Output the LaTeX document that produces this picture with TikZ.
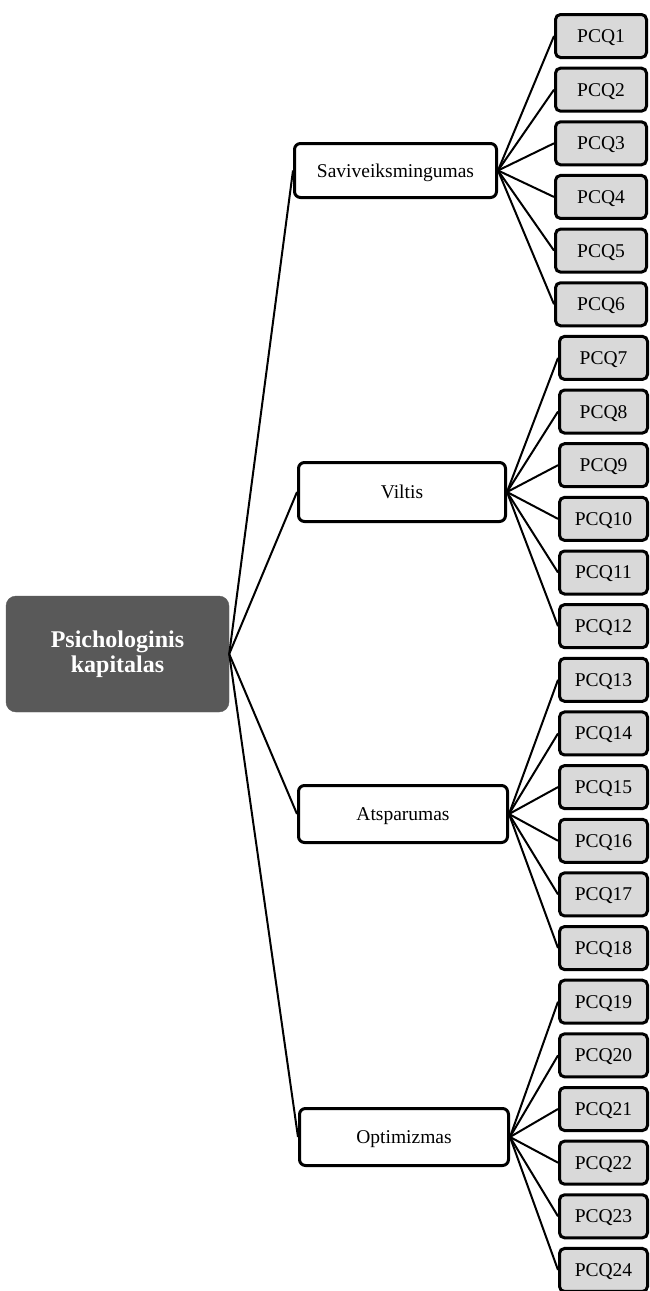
\documentclass[tikz,border=0pt]{standalone}
\usepackage{fontspec}
\setmainfont{Liberation Serif}
\begin{document}
\begin{tikzpicture}[x=1pt,y=-1pt,
  rootbox/.style={fill=rootgray,draw=rootgray,rounded corners=10pt,inner sep=0pt,
    minimum width=223pt,minimum height=116pt,text=white,align=center,
    font=\fontsize{24}{25.5}\selectfont\bfseries},
  dimbox/.style={draw=black,line width=3pt,fill=white,rounded corners=6pt,inner sep=0pt,
    text depth=0pt,minimum width=206pt,minimum height=56pt,font=\fontsize{19.5}{23}\selectfont},
  itembox/.style={draw=black,line width=3pt,fill=itemgray,rounded corners=5pt,inner sep=0pt,
    text depth=0pt,minimum width=89pt,minimum height=43pt,font=\fontsize{19.5}{23}\selectfont},
  link/.style={draw=black,line width=2pt}]
\definecolor{rootgray}{HTML}{595959}
\definecolor{itemgray}{HTML}{D9D9D9}
\useasboundingbox (0,0) rectangle (650,1291);
\clip (0,0) rectangle (650,1291);

% root and the four dimensions
\node[rootbox] (root) at (117.5,654) {Psichologinis\\kapitalas};
\node[dimbox,minimum width=202pt,minimum height=54pt] (d1) at (395.5,170.5) {Saviveiksmingumas};
\node[dimbox,minimum width=207pt,minimum height=59pt] (d2) at (402,492) {Viltis};
\node[dimbox,minimum width=209pt,minimum height=57pt] (d3) at (403,814) {Atsparumas};
\node[dimbox,minimum width=209pt,minimum height=57pt] (d4) at (404,1137) {Optimizmas};

% questionnaire items, six per dimension
\foreach \i in {1,...,24}{
  \pgfmathsetmacro{\yy}{36+53.65*(\i-1)}
  \ifnum\i<7
    \node[itembox,minimum width=91pt] (q\i) at (601,\yy) {PCQ\i};
  \else
    \node[itembox,minimum width=88pt] (q\i) at (603.5,\yy) {PCQ\i};
  \fi
}

% connectors
\foreach \d in {1,...,4}{
  \draw[link] (root.east) -- (d\d.west);
}
\foreach \i in {1,...,6}{\draw[link] (d1.east) -- (q\i.west);}
\foreach \i in {7,...,12}{\draw[link] (d2.east) -- (q\i.west);}
\foreach \i in {13,...,18}{\draw[link] (d3.east) -- (q\i.west);}
\foreach \i in {19,...,24}{\draw[link] (d4.east) -- (q\i.west);}
\end{tikzpicture}
\end{document}
